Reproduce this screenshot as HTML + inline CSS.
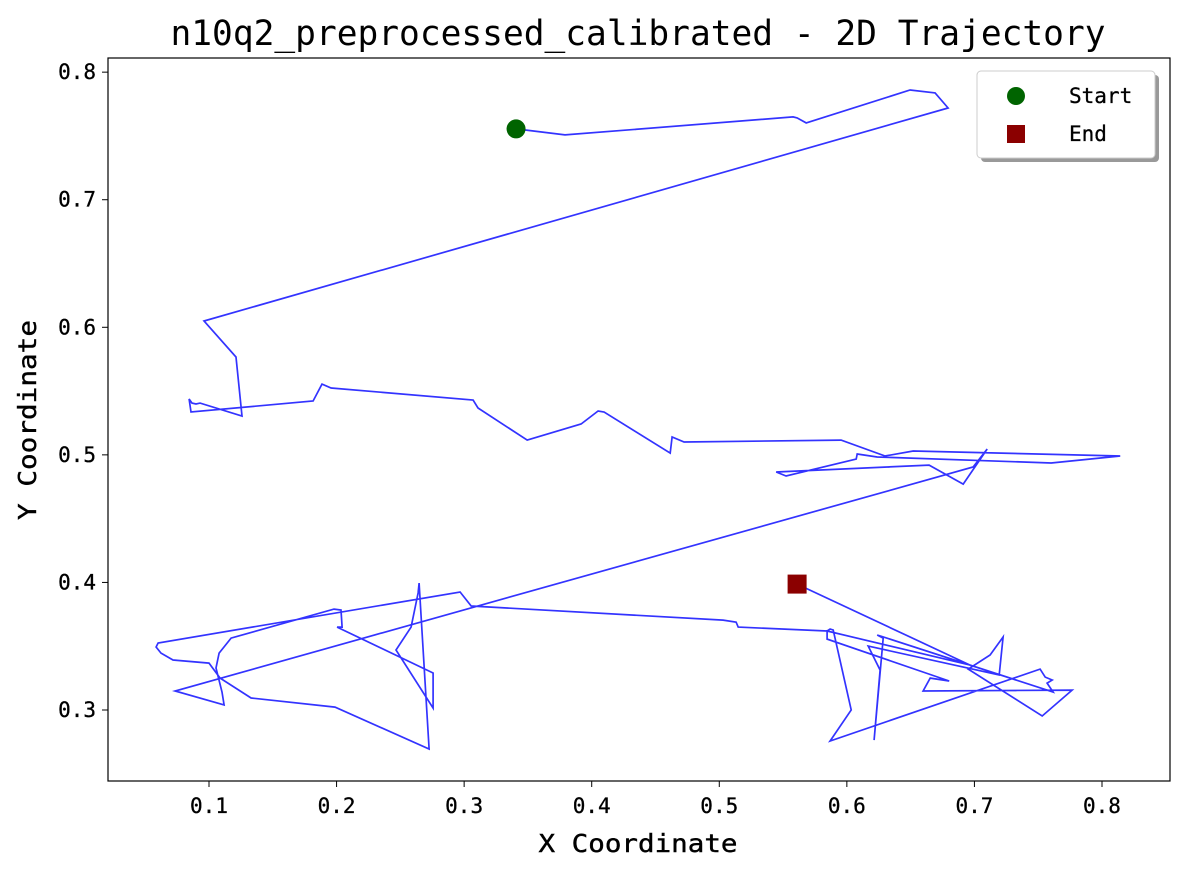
<!DOCTYPE html>
<html><head><meta charset="utf-8"><style>
body{margin:0;background:#fff;}
svg text{font-family:"DejaVu Sans Mono","Liberation Mono","Noto Sans CJK SC",monospace;fill:#000;}
</style></head><body>
<svg id="chart" width="1183" height="871" xmlns="http://www.w3.org/2000/svg">
<text x="638" y="45" font-size="35" text-anchor="middle" textLength="935" lengthAdjust="spacingAndGlyphs">n10q2_preprocessed_calibrated - 2D Trajectory</text>
<g id="plot"></g>
<rect x="108" y="58" width="1062" height="723" fill="none" stroke="#000" stroke-width="1.2"/>
<g id="axes"></g>
<text x="638" y="852" font-size="25" text-anchor="middle" textLength="199" lengthAdjust="spacingAndGlyphs" stroke="#000" stroke-width="0.4">X Coordinate</text>
<text x="36" y="420" font-size="25" text-anchor="middle" textLength="200" lengthAdjust="spacingAndGlyphs" stroke="#000" stroke-width="0.4" transform="rotate(-90 36 420)">Y Coordinate</text>
<g>
<rect x="981" y="75" width="178" height="87" rx="4" fill="#999"/>
<rect x="977" y="71" width="178" height="87" rx="4" fill="#fff" stroke="#ccc"/>
<circle cx="1016" cy="96" r="9" fill="#006400"/>
<text x="1069" y="103" font-size="21" stroke="#000" stroke-width="0.3">Start</text>
<rect x="1007" y="125" width="18" height="18" fill="#8b0000"/>
<text x="1069" y="141" font-size="21" stroke="#000" stroke-width="0.3">End</text>
</g>
</svg>
<script>
const xs=[0.3407,0.3791,0.5579,0.5610,0.5681,0.6496,0.6692,0.6794,0.0961,0.1212,0.1259,0.0930,0.0898,0.0867,0.0844,0.0859,0.1816,0.1886,0.1957,0.3070,0.3109,0.3494,0.3917,0.4050,0.4097,0.4615,0.4630,0.4724,0.5955,0.6300,0.6520,0.8143,0.7602,0.6238,0.6081,0.6073,0.5524,0.5446,0.6645,0.6912,0.7100,0.6990,0.0734,0.1118,0.1102,0.1055,0.1079,0.1173,0.1980,0.2035,0.2043,0.2004,0.2757,0.2757,0.2466,0.2584,0.2639,0.2647,0.2725,0.1988,0.1330,0.1087,0.1000,0.0718,0.0624,0.0585,0.0601,0.2968,0.3055,0.5030,0.5132,0.5148,0.5845,0.5869,0.5893,0.6034,0.5869,0.7515,0.7555,0.7610,0.7570,0.7617,0.6238,0.6285,0.6214,0.6261,0.6167,0.7194,0.7225,0.7123,0.6951,0.7531,0.7766,0.6598,0.6653,0.6802,0.5845,0.5845,0.6966,0.5610];
const ys=[0.7555,0.7508,0.7649,0.7641,0.7602,0.7860,0.7837,0.7719,0.6049,0.5767,0.5305,0.5406,0.5399,0.5406,0.5438,0.5336,0.5422,0.5555,0.5524,0.5430,0.5367,0.5116,0.5242,0.5344,0.5336,0.5014,0.5140,0.5101,0.5116,0.4991,0.5030,0.4991,0.4936,0.4983,0.5007,0.4967,0.4834,0.4866,0.4920,0.4771,0.5046,0.4905,0.3149,0.3039,0.3141,0.3329,0.3446,0.3564,0.3791,0.3784,0.3650,0.3650,0.3290,0.3015,0.3470,0.3650,0.3917,0.3995,0.2694,0.3023,0.3094,0.3250,0.3368,0.3392,0.3446,0.3494,0.3525,0.3925,0.3815,0.3705,0.3689,0.3650,0.3619,0.3635,0.3627,0.3000,0.2757,0.3321,0.3258,0.3235,0.3211,0.3141,0.3588,0.3564,0.2764,0.3313,0.3501,0.3274,0.3572,0.3431,0.3321,0.2953,0.3156,0.3149,0.3250,0.3227,0.3556,0.3619,0.3352,0.3987];
const xTicks=[0.1,0.2,0.3,0.4,0.5,0.6,0.7,0.8];
const yTicks=[0.3,0.4,0.5,0.6,0.7,0.8];
const NS="http://www.w3.org/2000/svg";
function sx(v){return 209+(v-0.1)*1275.7;}
function sy(v){return 710-(v-0.3)*1275.7;}
const plot=document.getElementById('plot'),axes=document.getElementById('axes');
const line=document.createElementNS(NS,'polyline');


line.setAttribute('points',xs.map((x,i)=>sx(x).toFixed(1)+','+sy(ys[i]).toFixed(1)).join(' '));
line.setAttribute('fill','none');line.setAttribute('stroke','rgba(0,0,255,0.8)');line.setAttribute('stroke-width','1.7');
plot.appendChild(line);
const st=document.createElementNS(NS,'circle');


st.setAttribute('cx',sx(xs[0]));st.setAttribute('cy',sy(ys[0]));st.setAttribute('r','9.5');st.setAttribute('fill','#006400');
plot.appendChild(st);
const en=document.createElementNS(NS,'rect');


const ex=sx(xs[xs.length-1]),ey=sy(ys[ys.length-1]);
en.setAttribute('x',ex-9.5);en.setAttribute('y',ey-9.5);en.setAttribute('width','19');en.setAttribute('height','19');en.setAttribute('fill','#8b0000');
plot.appendChild(en);
xTicks.forEach(t=>{
const x=sx(t);
const l=document.createElementNS(NS,'line');


l.setAttribute('x1',x);l.setAttribute('x2',x);l.setAttribute('y1',781);l.setAttribute('y2',787);l.setAttribute('stroke','#000');
axes.appendChild(l);
const tx=document.createElementNS(NS,'text');


tx.setAttribute('x',x);tx.setAttribute('y',813);tx.setAttribute('font-size','21');tx.setAttribute('text-anchor','middle');
tx.setAttribute('stroke','#000');tx.setAttribute('stroke-width','0.3');
tx.textContent=t.toFixed(1);axes.appendChild(tx);
});
yTicks.forEach(t=>{
const y=sy(t);
const l=document.createElementNS(NS,'line');


l.setAttribute('x1',102);l.setAttribute('x2',108);l.setAttribute('y1',y);l.setAttribute('y2',y);l.setAttribute('stroke','#000');
axes.appendChild(l);
const tx=document.createElementNS(NS,'text');


tx.setAttribute('x',96);tx.setAttribute('y',y+7);tx.setAttribute('font-size','21');tx.setAttribute('text-anchor','end');
tx.setAttribute('stroke','#000');tx.setAttribute('stroke-width','0.3');
tx.textContent=t.toFixed(1);axes.appendChild(tx);
});
</script>
</body></html>
